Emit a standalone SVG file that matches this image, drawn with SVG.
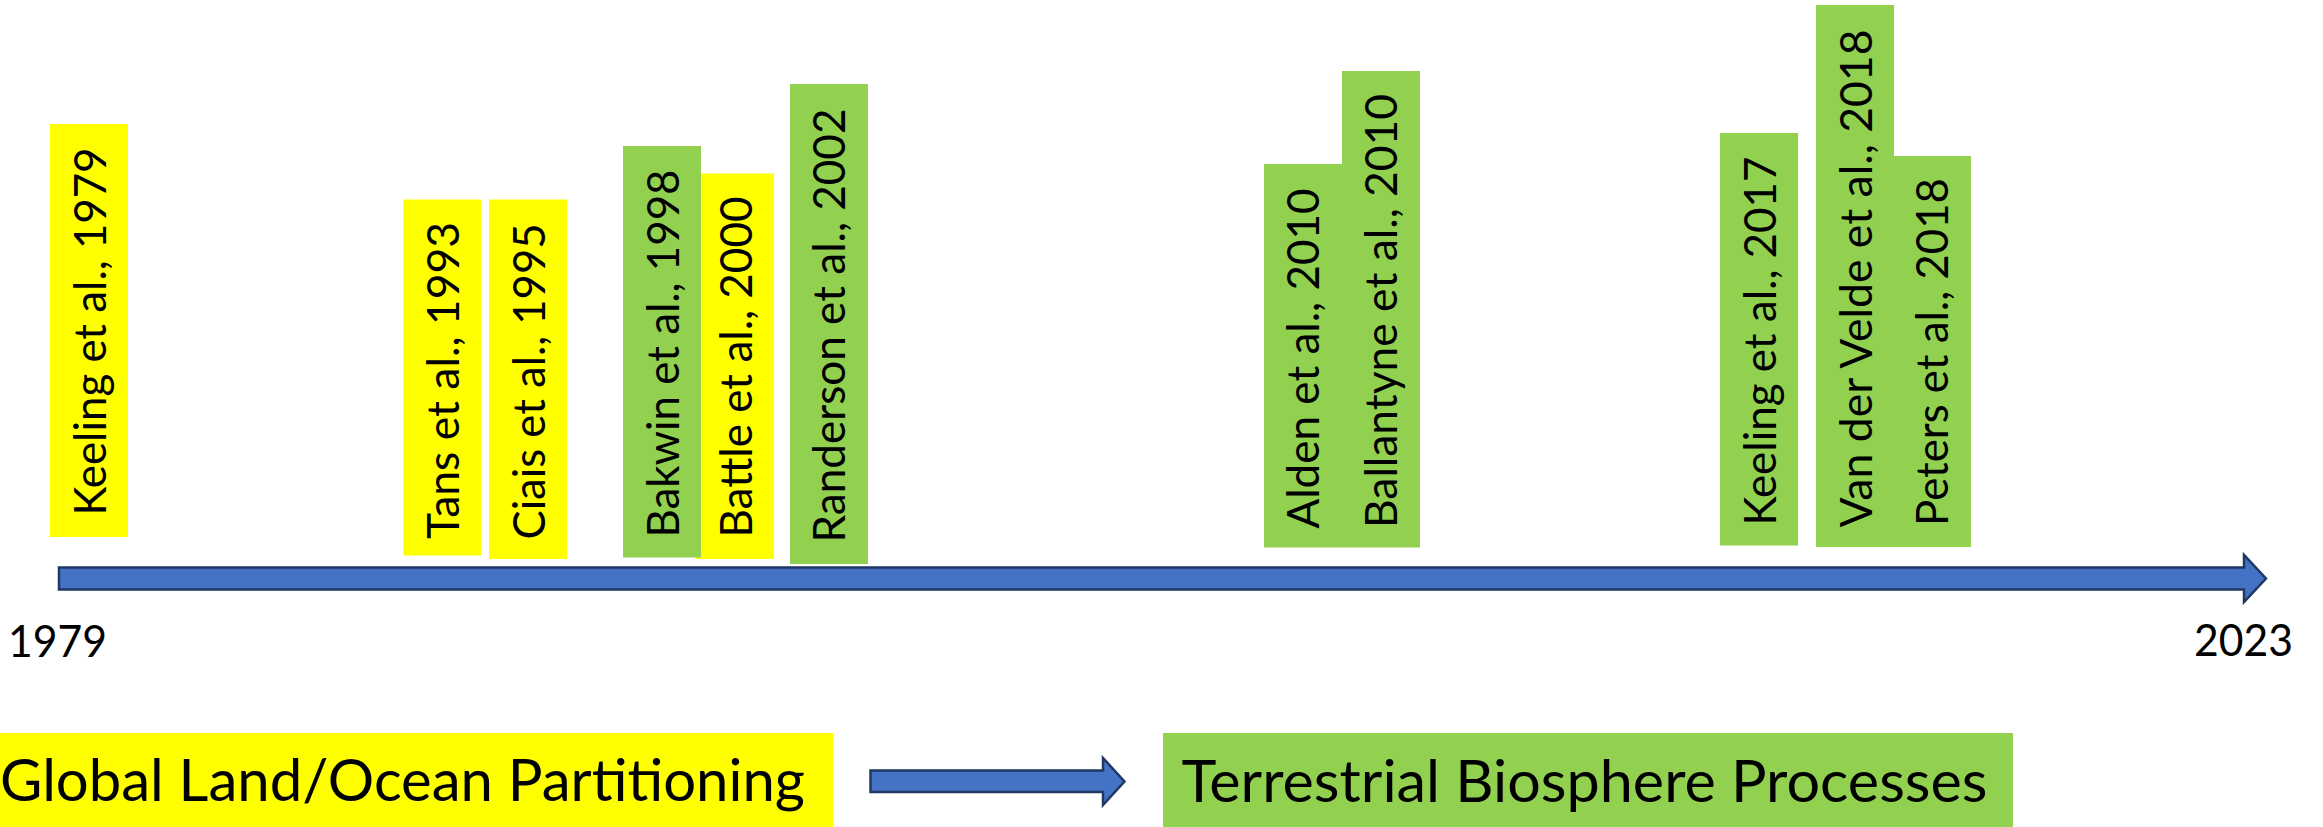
<svg xmlns="http://www.w3.org/2000/svg" width="2323" height="827" viewBox="0 0 2323 827">
<style>
.y{fill:#FFFF00}
.g{fill:#92D050}
.t{font-family:Lato,"Liberation Sans",sans-serif;font-size:44px;fill:#000}
.b{font-family:Lato,"Liberation Sans",sans-serif;font-size:58px;fill:#000}
.lab{font-family:Lato,"Liberation Sans",sans-serif;font-size:44px;fill:#000}
.arr{fill:#4472C4;stroke:#1F3864;stroke-width:2.5;stroke-linejoin:miter}
</style>
<rect width="2323" height="827" fill="#ffffff"/>
<g id="connectors">
<path class="arr" d="M59,567.5 H2244 V555 L2266,578.5 L2244,602 V589.5 H59 Z"/>
<path class="arr" d="M870.5,770.5 H1103 V758 L1124.5,781.5 L1103,805 V792 H870.5 Z"/>
</g>
<g id="keeling1979">
<rect class="y" x="50" y="124" width="78" height="413"/>
<text class="t" transform="translate(106,515.5) rotate(-90)" textLength="368" lengthAdjust="spacingAndGlyphs">Keeling et al., 1979</text>
</g>
<g id="tans1993">
<rect class="y" x="403.5" y="199.5" width="77.5" height="356"/>
<text class="t" transform="translate(458.5,539) rotate(-90)" textLength="317" lengthAdjust="spacingAndGlyphs">Tans et al., 1993</text>
</g>
<g id="ciais1995">
<rect class="y" x="489" y="199.5" width="78" height="359.5"/>
<text class="t" transform="translate(545,539.5) rotate(-90)" textLength="316" lengthAdjust="spacingAndGlyphs">Ciais et al., 1995</text>
</g>
<g id="battle2000">
<rect class="y" x="696" y="173.5" width="78" height="385.5"/>
<text class="t" transform="translate(751.5,537.5) rotate(-90)" textLength="341" lengthAdjust="spacingAndGlyphs">Battle et al., 2000</text>
</g>
<g id="bakwin1998">
<rect class="g" x="623" y="146" width="78" height="411.5"/>
<text class="t" transform="translate(679,537.5) rotate(-90)" textLength="368" lengthAdjust="spacingAndGlyphs">Bakwin et al., 1998</text>
</g>
<g id="randerson2002">
<rect class="g" x="790" y="84" width="78" height="480"/>
<text class="t" transform="translate(845,542.5) rotate(-90)" textLength="434" lengthAdjust="spacingAndGlyphs">Randerson et al., 2002</text>
</g>
<g id="alden2010">
<rect class="g" x="1264" y="164" width="78.5" height="383.5"/>
<text class="t" transform="translate(1319,528.5) rotate(-90)" textLength="340" lengthAdjust="spacingAndGlyphs">Alden et al., 2010</text>
</g>
<g id="ballantyne2010">
<rect class="g" x="1342" y="71" width="78" height="476.5"/>
<text class="t" transform="translate(1397.3,528) rotate(-90)" textLength="434" lengthAdjust="spacingAndGlyphs">Ballantyne et al., 2010</text>
</g>
<g id="keeling2017">
<rect class="g" x="1720" y="133" width="78" height="412.5"/>
<text class="t" transform="translate(1776,525.5) rotate(-90)" textLength="369" lengthAdjust="spacingAndGlyphs">Keeling et al., 2017</text>
</g>
<g id="vandervelde2018">
<rect class="g" x="1816" y="5" width="78" height="542"/>
<text class="t" transform="translate(1871.7,527.5) rotate(-90)" textLength="498" lengthAdjust="spacingAndGlyphs">Van der Velde et al., 2018</text>
</g>
<g id="peters2018">
<rect class="g" x="1894" y="156" width="77" height="391"/>
<text class="t" transform="translate(1948.3,526) rotate(-90)" textLength="348" lengthAdjust="spacingAndGlyphs">Peters et al., 2018</text>
</g>
<g id="year1979">
<text class="lab" x="8" y="657" textLength="99" lengthAdjust="spacingAndGlyphs">1979</text>
</g>
<g id="year2023">
<text class="lab" x="2194" y="656" textLength="99" lengthAdjust="spacingAndGlyphs">2023</text>
</g>
<g id="global">
<rect class="y" x="0" y="733" width="833" height="94"/>
<text class="b" x="0" y="801" textLength="805" lengthAdjust="spacingAndGlyphs">Global Land/Ocean Partitioning</text>
</g>
<g id="terrestrial">
<rect class="g" x="1163" y="733" width="850" height="94"/>
<text class="b" x="1181.5" y="801.5" textLength="806" lengthAdjust="spacingAndGlyphs">Terrestrial Biosphere Processes</text>
</g>
</svg>
